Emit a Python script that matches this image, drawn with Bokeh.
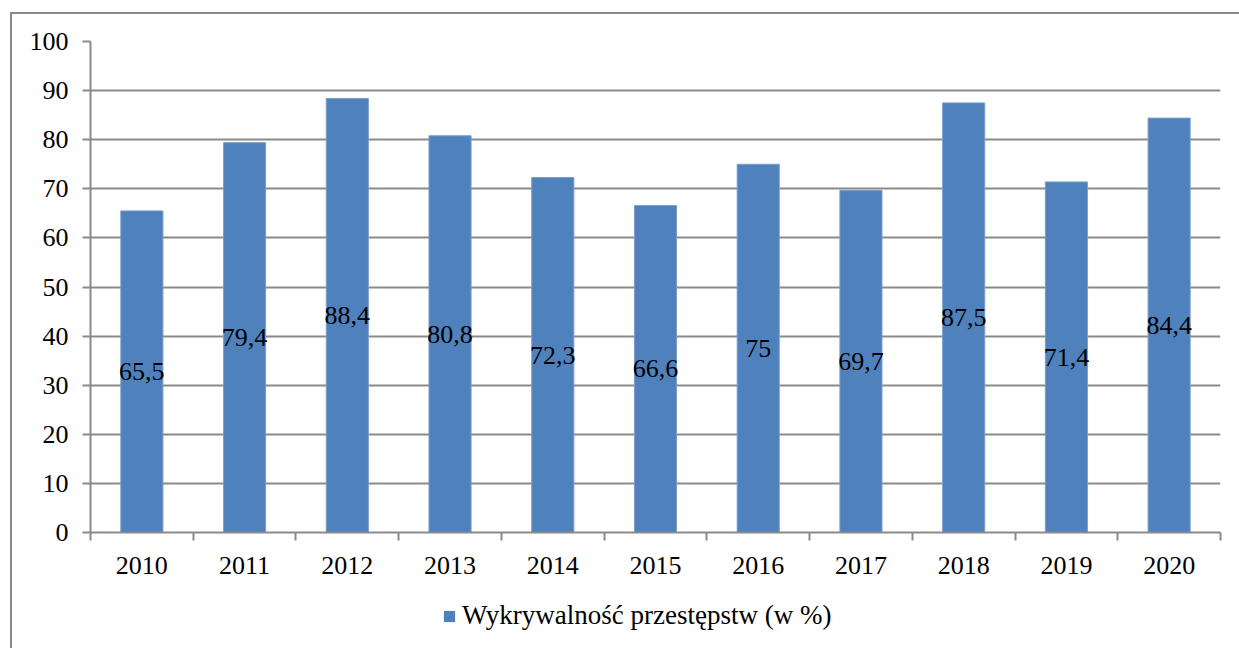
from bokeh.plotting import figure
from bokeh.models import (ColumnDataSource, FixedTicker, Legend, LegendItem,
                          LabelSet, Range1d)
from bokeh.layouts import column
from bokeh.embed import file_html
from bokeh.resources import INLINE

years = ["2010", "2011", "2012", "2013", "2014", "2015", "2016", "2017", "2018", "2019", "2020"]
values = [65.5, 79.4, 88.4, 80.8, 72.3, 66.6, 75, 69.7, 87.5, 71.4, 84.4]
series_name = "Wykrywalność przestępstw (w %)"
y_ticks = [0, 10, 20, 30, 40, 50, 60, 70, 80, 90, 100]

FONT = "Liberation Serif"
GRID = "#8a8a8a"
BAR = "#4F81BD"
EDGE = "#7a9fcf"

n = len(years)
xs = [i + 0.5 for i in range(n)]
src = ColumnDataSource(dict(
    x=xs, top=values, mid=[v / 2 for v in values],
    lab=[("%g" % v).replace(".", ",") for v in values],
))

p = figure(width=1227, height=580, output_backend="svg", toolbar_location=None,
           x_range=Range1d(0, n), y_range=Range1d(0, 100),
           min_border_left=78, min_border_right=19, min_border_top=27,
           min_border_bottom=62)
p.outline_line_color = None
p.background_fill_color = "white"
p.border_fill_color = "white"

r = p.vbar(x="x", top="top", width=0.41, source=src, fill_color=BAR,
           line_color=EDGE, line_width=1)

labels = LabelSet(x="x", y="mid", text="lab", source=src, text_align="center",
                  text_baseline="middle", text_font=FONT, text_font_size="26px",
                  text_color="black")
p.add_layout(labels)

# axes
p.xaxis.ticker = FixedTicker(ticks=xs, minor_ticks=list(range(n + 1)))
p.xaxis.major_label_overrides = {x: y for x, y in zip(xs, years)}
p.xaxis.major_tick_out = 0
p.xaxis.major_tick_in = 0
p.xaxis.minor_tick_out = 8
p.xaxis.minor_tick_in = 0
p.xaxis.minor_tick_line_color = GRID
p.xaxis.minor_tick_line_width = 2
p.xaxis.axis_line_color = GRID
p.xaxis.axis_line_width = 2
p.xaxis.major_label_text_font = FONT
p.xaxis.major_label_text_font_size = "26px"
p.xaxis.major_label_text_color = "black"
p.xaxis.major_label_standoff = 16

p.yaxis.ticker = FixedTicker(ticks=y_ticks)
p.yaxis.major_tick_out = 8
p.yaxis.major_tick_in = 0
p.yaxis.minor_tick_line_color = None
p.yaxis.major_tick_line_color = GRID
p.yaxis.major_tick_line_width = 2
p.yaxis.axis_line_color = GRID
p.yaxis.axis_line_width = 2
p.yaxis.major_label_text_font = FONT
p.yaxis.major_label_text_font_size = "26px"
p.yaxis.major_label_text_color = "black"
p.yaxis.major_label_standoff = 14

p.xgrid.grid_line_color = None
p.ygrid.ticker = FixedTicker(ticks=y_ticks)
p.ygrid.grid_line_color = GRID
p.ygrid.grid_line_width = 2

# legend strip (bars kept out of view, used only for the legend glyph)
pl = figure(width=1227, height=54, output_backend="svg", toolbar_location=None,
            x_axis_type=None, y_axis_type=None, min_border=0,
            x_range=Range1d(1000, 1001), y_range=Range1d(1000, 1001))
pl.outline_line_color = None
pl.xgrid.grid_line_color = None
pl.ygrid.grid_line_color = None
rl = pl.vbar(x="x", top="top", width=0.41, source=src, fill_color=BAR,
             line_color=None)
legend = Legend(items=[LegendItem(label=series_name, renderers=[rl])],
                location=(352, 17), orientation="horizontal",
                label_text_font=FONT, label_text_font_size="27px",
                label_text_color="black", glyph_width=14, glyph_height=14,
                border_line_color=None, background_fill_alpha=0,
                padding=0, margin=0, label_standoff=6)
pl.add_layout(legend, "center")

layout = column(p, pl, spacing=0, margin=(12, 0, 0, 10),
                styles={"border-left": "2px solid #8a8a8a",
                        "border-top": "2px solid #8a8a8a"})
open("out.html", "w").write(file_html(layout, INLINE))
